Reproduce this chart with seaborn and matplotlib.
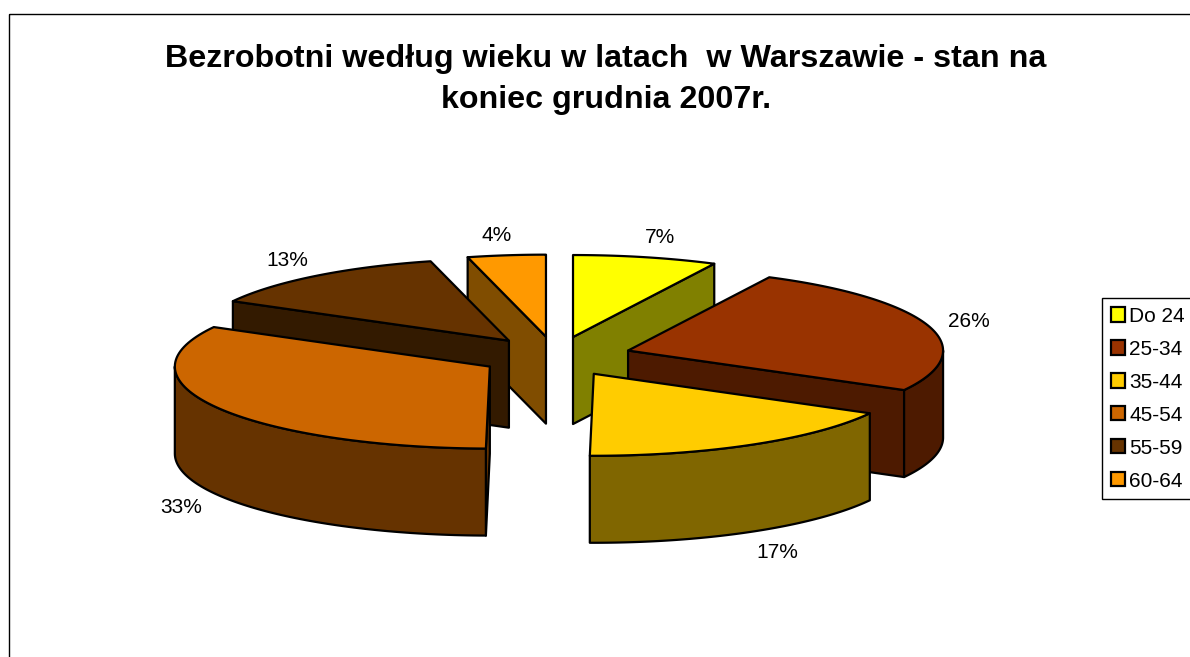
import numpy as np
import matplotlib
matplotlib.use("Agg")
import matplotlib.pyplot as plt
from matplotlib.patches import Polygon, Patch, Rectangle
import seaborn as sns

# Bezrobotni wedlug wieku - shares
age_groups = ["Do 24", "25-34", "35-44", "45-54", "55-59", "60-64"]
shares = [7.4, 25.6, 17.2, 32.8, 13.0, 4.0]
colors = ["#FFFF00", "#993300", "#FFCC00", "#CC6600", "#663300", "#FF9900"]
title = "Bezrobotni według wieku w latach  w Warszawie - stan na\nkoniec grudnia 2007r."

# pie geometry in pixels
W, H = 1190, 657
cx, cy = 555.5, 356.5
rx, ry = 315, 82
depth = 87
explode_x, explode_y = 76, 20
label_gap_x, label_gap_y = 20, 22
label_half = 21

sns.set_theme(style="white")
plt.rcParams["font.family"] = ["Liberation Sans", "DejaVu Sans"]
palette = sns.color_palette(colors)

fig = plt.figure(figsize=(W / 100, H / 100), dpi=100)
ax = fig.add_axes([0, 0, 1, 1])
ax.set_xlim(0, W)
ax.set_ylim(H, 0)
ax.axis("off")

# chart area border, runs off the right and bottom like the original
ax.add_patch(Rectangle((9, 14), W + 20, H + 20, fill=False, ec="black", lw=1))


def rim(ox, oy, a1, a2, n=80):
    t = np.radians(np.linspace(a1, a2, n))
    return ox + rx * np.sin(t), oy - ry * np.cos(t)


edges = np.concatenate([[0], np.cumsum(shares)]) * 3.6
mids = (edges[:-1] + edges[1:]) / 2
off_x = cx + explode_x * np.sin(np.radians(mids))
off_y = cy - explode_y * np.cos(np.radians(mids))

# paint back to front
for i in np.argsort(off_y):
    ox, oy = off_x[i], off_y[i]
    a1, a2 = edges[i], edges[i + 1]
    top = palette[i]
    side = tuple(c * 0.5 for c in top)
    style = dict(ec="black", lw=1.6, joinstyle="round")

    # radial walls
    if np.sin(np.radians(a1)) < -1e-9:
        x, y = rim(ox, oy, a1, a1, 1)
        ax.add_patch(Polygon([(ox, oy), (x[0], y[0]), (x[0], y[0] + depth), (ox, oy + depth)], fc=side, **style))
    if np.sin(np.radians(a2)) > 1e-9:
        x, y = rim(ox, oy, a2, a2, 1)
        ax.add_patch(Polygon([(ox, oy), (x[0], y[0]), (x[0], y[0] + depth), (ox, oy + depth)], fc=side, **style))

    # outer wall, only the part facing the viewer
    f1, f2 = max(a1, 90), min(a2, 270)
    if f1 < f2:
        x, y = rim(ox, oy, f1, f2)
        pts = np.r_[np.c_[x, y], np.c_[x[::-1], y[::-1] + depth]]
        ax.add_patch(Polygon(pts, fc=side, **style))

    # top face
    x, y = rim(ox, oy, a1, a2)
    pts = np.r_[[[ox, oy]], np.c_[x, y]]
    ax.add_patch(Polygon(pts, fc=top, **style))

    # percent label sits just outside the rim
    s, c = np.sin(np.radians(mids[i])), np.cos(np.radians(mids[i]))
    lx = ox + (rx + label_gap_x) * s + label_half * np.sign(s) * np.sqrt(abs(s))
    ly = oy - (ry + label_gap_y) * c + 2
    if c < 0:
        ly += depth
    ax.text(lx, ly, f"{shares[i]:.0f}%", ha="center", va="center", fontsize=15, color="black")

ax.text(606, 79.5, title, ha="center", va="center", fontsize=23.2, fontweight="bold",
        color="black", linespacing=1.47)

handles = [Patch(fc=palette[i], ec="black", lw=1.6, label=age_groups[i]) for i in range(len(age_groups))]
leg = fig.legend(handles=handles, loc="upper left", bbox_to_anchor=(1102 / W, 1 - 298 / H),
                 borderaxespad=0, fontsize=15, frameon=True, fancybox=False, edgecolor="black",
                 framealpha=1, handlelength=0.68, handleheight=0.68, handletextpad=0.2,
                 labelspacing=0.67, borderpad=0.42, labelcolor="black")
leg.get_frame().set_linewidth(1)

fig.savefig("out.png", dpi=100)
